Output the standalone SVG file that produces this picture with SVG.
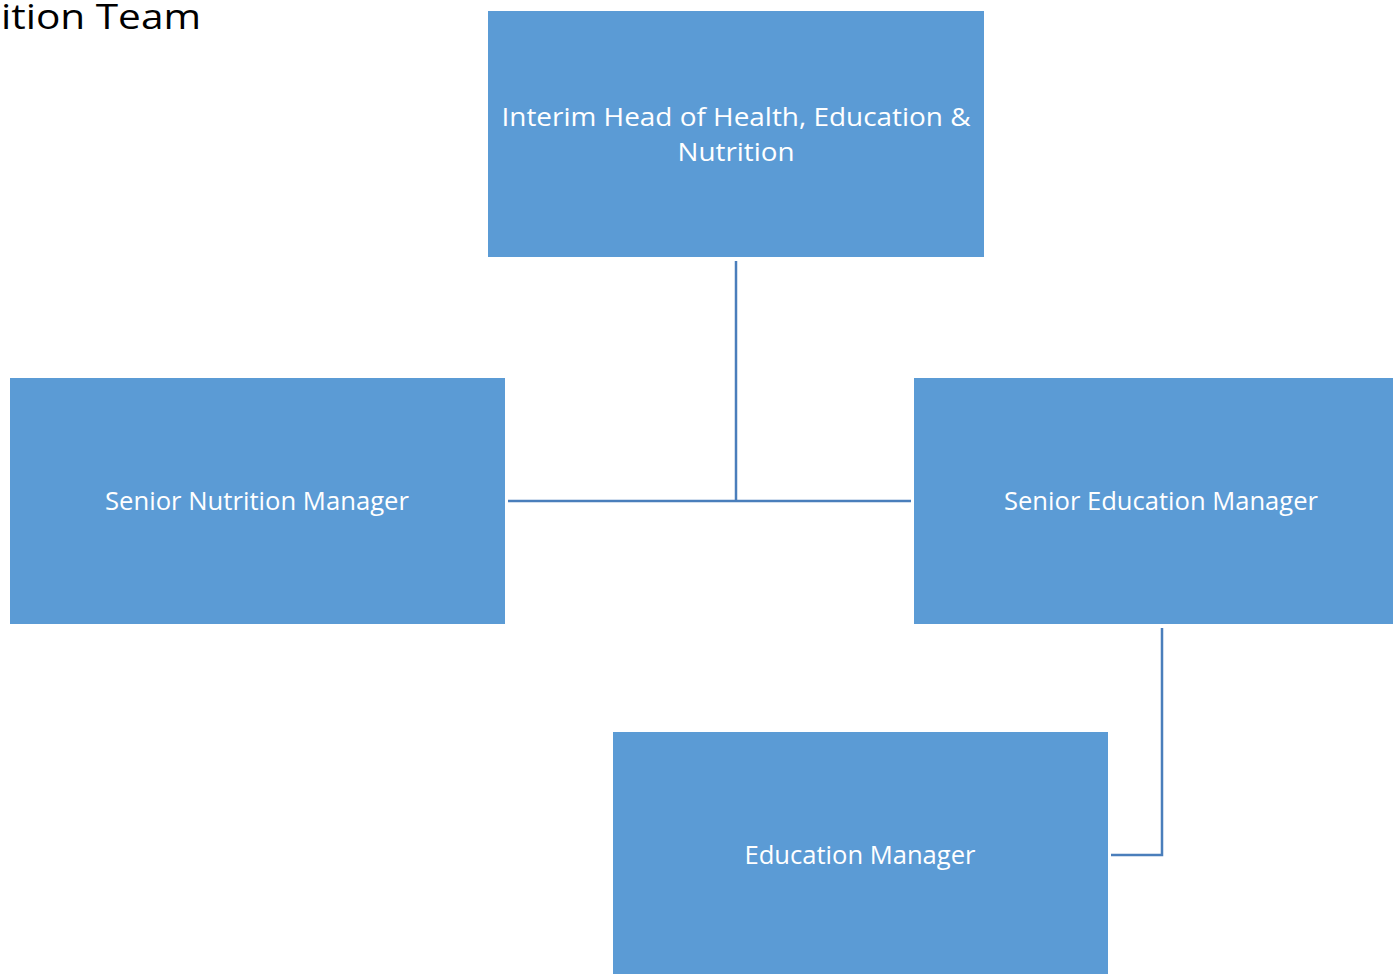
<svg xmlns="http://www.w3.org/2000/svg" width="1393" height="974" viewBox="0 0 1393 974">
<style>
.box{fill:#5B9BD5;}
.lbl{font-family:"Open Sans","Liberation Sans",sans-serif;font-size:26px;fill:#FFFFFF;text-anchor:middle;}
.conn{stroke:#4A7EBB;stroke-width:2.5;fill:none;}
.title{font-family:"Open Sans","Liberation Sans",sans-serif;font-size:35px;fill:#000000;}
</style>
<rect width="1393" height="974" fill="#FFFFFF"/>
<text class="title" x="1" y="29" textLength="200" lengthAdjust="spacingAndGlyphs">ition Team</text>
<g id="connectors">
<path class="conn" d="M736,261 V501"/>
<path class="conn" d="M508,501 H911"/>
<path class="conn" d="M1162,628 V855 H1111"/>
</g>
<g id="head">
<rect class="box" x="488" y="11" width="496" height="246"/>
<text class="lbl" x="736" y="126" textLength="469" lengthAdjust="spacingAndGlyphs">Interim Head of Health, Education &amp;</text>
<text class="lbl" x="736" y="161" textLength="117" lengthAdjust="spacingAndGlyphs">Nutrition</text>
</g>
<g id="senior-nutrition">
<rect class="box" x="10" y="378" width="495" height="246"/>
<text class="lbl" x="257" y="510" textLength="304" lengthAdjust="spacingAndGlyphs">Senior Nutrition Manager</text>
</g>
<g id="senior-education">
<rect class="box" x="914" y="378" width="496" height="246"/>
<text class="lbl" x="1161" y="510" textLength="314" lengthAdjust="spacingAndGlyphs">Senior Education Manager</text>
</g>
<g id="education">
<rect class="box" x="613" y="732" width="495" height="260"/>
<text class="lbl" x="860" y="864" textLength="231" lengthAdjust="spacingAndGlyphs">Education Manager</text>
</g>
</svg>
